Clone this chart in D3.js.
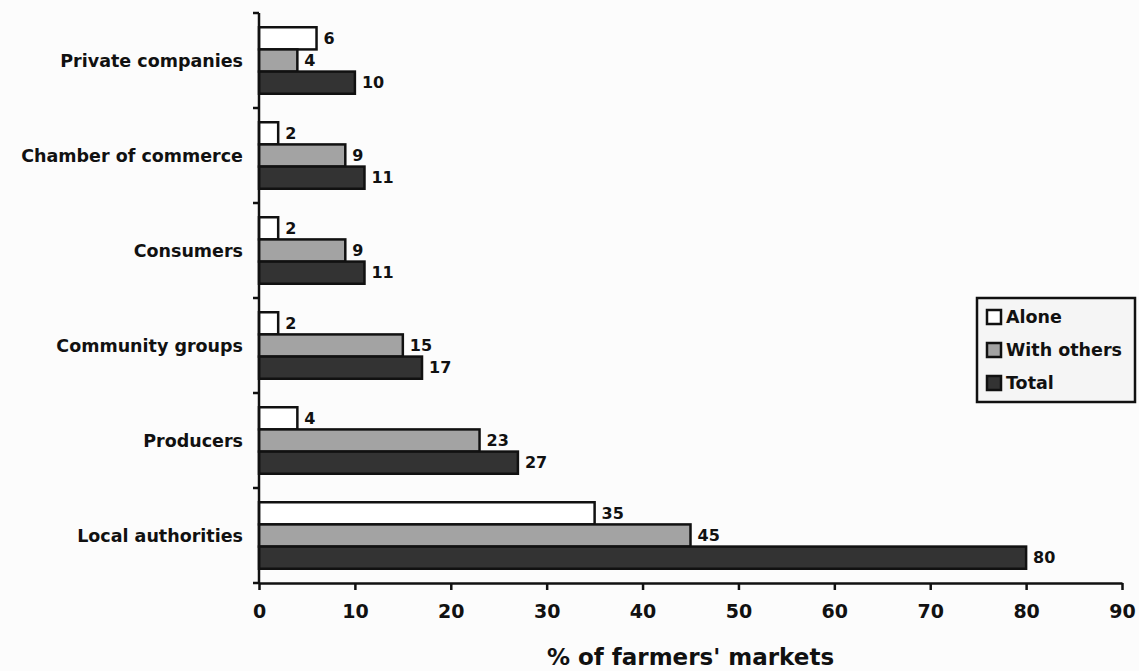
<!DOCTYPE html>
<html><head><meta charset="utf-8">
<script src="https://cdn.jsdelivr.net/npm/d3@7"></script>
<style>body{margin:0;background:#fff;}svg{display:block;font-family:"DejaVu Sans",sans-serif;font-weight:bold;}</style>
</head><body><svg id="c" width="1139" height="671"></svg>
<script>
const categories = ["Private companies","Chamber of commerce","Consumers","Community groups","Producers","Local authorities"];
const seriesNames = ["Alone","With others","Total"];
const alone = [6,2,2,2,4,35];
const withOthers = [4,9,9,15,23,45];
const total = [10,11,11,17,27,80];
const xTicks = [0,10,20,30,40,50,60,70,80,90];
const colors = ["#ffffff","#a3a3a3","#333333"];
const seriesValues = [alone, withOthers, total];
const FF = "DejaVu Sans, sans-serif";

const svg = d3.select("#c");
svg.append("rect").attr("width",1139).attr("height",671).attr("fill","#fcfcfc");
const x = d3.scaleLinear().domain([0,90]).range([259,1122]);
const y = d3.scaleBand().domain(categories).range([13,583]).paddingInner(0.3).paddingOuter(0.15);
const yInner = d3.scaleBand().domain(seriesNames).range([0,y.bandwidth()]);

// x axis
const xa = svg.append("g").attr("transform","translate(0,583)")
  .call(d3.axisBottom(x).tickValues(xTicks).tickSize(7).tickSizeOuter(0).tickPadding(15));
xa.select(".domain").attr("stroke","#111").attr("stroke-width",2.5);
xa.selectAll(".tick line").attr("stroke","#111").attr("stroke-width",2.5);
xa.selectAll(".tick text").attr("font-size",19).attr("font-weight","bold").attr("fill","#111").attr("font-family",FF);

// y axis ticks at band boundaries
const band = (583-13)/6;
d3.range(0,7).forEach(i=>{
  svg.append("line").attr("x1",253).attr("x2",259).attr("y1",13+i*band).attr("y2",13+i*band).attr("stroke","#111").attr("stroke-width",2.5);
});
// category labels
svg.append("g").selectAll("text").data(categories).join("text")
  .attr("x",243).attr("y",d=>13+categories.indexOf(d)*band+band/2+1)
  .attr("text-anchor","end").attr("dominant-baseline","middle")
  .attr("font-size",17.5).attr("fill","#111").text(d=>d);

// bars
seriesNames.forEach((s,si)=>{
  const g = svg.append("g");
  const vals = seriesValues[si];
  g.selectAll("rect").data(categories).join("rect")
    .attr("x",x(0)).attr("y",(d)=>y(d)+yInner(s))
    .attr("width",(d,i)=>x(vals[i])-x(0)).attr("height",yInner.bandwidth())
    .attr("fill",colors[si]).attr("stroke","#111").attr("stroke-width",2.5);
  g.selectAll("text").data(categories).join("text")
    .attr("x",(d,i)=>x(vals[i])+7).attr("y",d=>y(d)+yInner(s)+yInner.bandwidth()/2+1)
    .attr("dominant-baseline","middle").attr("font-size",16).attr("fill","#111")
    .text((d,i)=>vals[i]);
});
// y axis on top
svg.append("line").attr("x1",259).attr("x2",259).attr("y1",13).attr("y2",583).attr("stroke","#111").attr("stroke-width",2.5);

// x title
svg.append("text").attr("x",x(45)).attr("y",665).attr("text-anchor","middle")
  .attr("font-size",23).attr("fill","#111").text("% of farmers' markets");

// legend
const lg = svg.append("g");
lg.append("rect").attr("x",977).attr("y",298).attr("width",158).attr("height",104)
  .attr("fill","#f5f5f5").attr("stroke","#111").attr("stroke-width",2.5);
seriesNames.forEach((s,i)=>{
  const yy = 317 + i*33;
  lg.append("rect").attr("x",987).attr("y",yy-7).attr("width",14).attr("height",14)
    .attr("fill",colors[i]).attr("stroke","#111").attr("stroke-width",2.5);
  lg.append("text").attr("x",1006).attr("y",yy+1).attr("dominant-baseline","middle")
    .attr("font-size",17.5).attr("fill","#111").text(s);
});
</script></body></html>
